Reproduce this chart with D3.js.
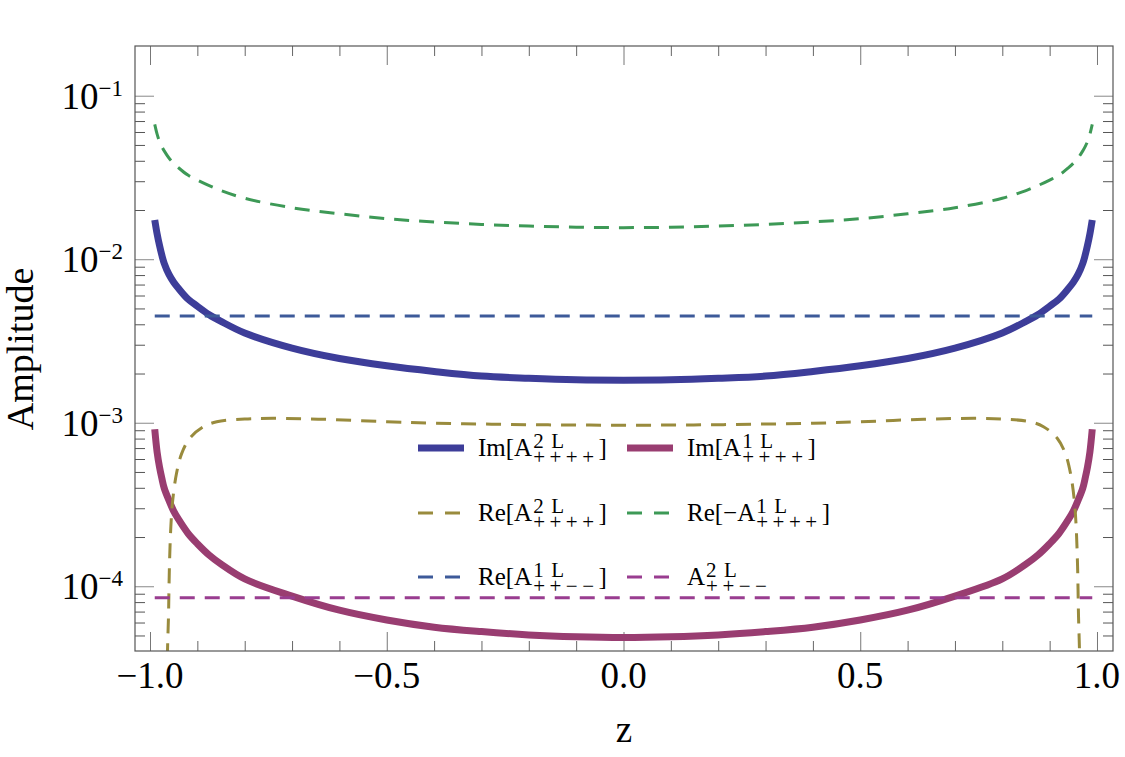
<!DOCTYPE html>
<meta charset="utf-8">
<head>
  <title>Amplitude vs z</title>
  <style>
    body { margin: 0; background: #fff; }
    text { font-family: "Liberation Serif", "Times New Roman", serif; fill: #000; }
  </style>
</head>
<body>
<script src="https://d3js.org/d3.v7.min.js"></script>
<script>
var WIDTH = 1125,
    HEIGHT = 757,
    LEFT = 135, TOP = 46, RIGHT = 1113, BOTTOM = 651;

// sample points in z
var zGrid = [-0.99, -0.985, -0.98, -0.975, -0.97, -0.96, -0.95, -0.94, -0.92, -0.9, -0.875, -0.85, -0.8,
             -0.7, -0.6, -0.5, -0.4, -0.3, -0.2, -0.1, 0, 0.1, 0.2, 0.3, 0.4, 0.5, 0.6, 0.7,
             0.8, 0.85, 0.875, 0.9, 0.92, 0.94, 0.95, 0.96, 0.97, 0.975, 0.98, 0.985, 0.99];
var zEnds = [-0.99, 0.99];
var zOlive = [-0.965, -0.963, -0.961, -0.959, -0.956, -0.952, -0.944, -0.933, -0.916, -0.887, -0.859, -0.8, -0.74, -0.634,
              -0.5, -0.4, -0.3, -0.2, -0.1, 0, 0.1, 0.2, 0.3, 0.4, 0.5,
              0.634, 0.74, 0.8, 0.859, 0.887, 0.916, 0.933, 0.944, 0.952, 0.956, 0.959, 0.961, 0.963, 0.965];

// Im[A 2L ++++]
var imA2L = [0.01738, 0.01429, 0.01216, 0.01059, 0.00944, 0.00807, 0.00723, 0.00664, 0.00571, 0.00516, 0.00458, 0.00417, 0.00354,
             0.00286, 0.00247, 0.00223, 0.00206, 0.00193, 0.00187, 0.00183, 0.00182, 0.00183, 0.00187, 0.00193, 0.00206, 0.00223, 0.00247, 0.00286,
             0.00354, 0.00417, 0.00458, 0.00516, 0.00571, 0.00664, 0.00723, 0.00807, 0.00944, 0.01059, 0.01216, 0.01429, 0.01738];
// Im[A 1L ++++]
var imA1L = [9.12e-4, 6.61e-4, 5.37e-4, 4.57e-4, 3.98e-4, 3.35e-4, 2.88e-4, 2.57e-4, 2.11e-4, 1.82e-4, 1.55e-4, 1.365e-4, 1.109e-4,
             8.71e-5, 7.14e-5, 6.22e-5, 5.62e-5, 5.28e-5, 5.04e-5, 4.91e-5, 4.86e-5, 4.91e-5, 5.04e-5, 5.28e-5, 5.62e-5, 6.22e-5, 7.14e-5, 8.71e-5,
             1.109e-4, 1.365e-4, 1.55e-4, 1.82e-4, 2.11e-4, 2.57e-4, 2.88e-4, 3.35e-4, 3.98e-4, 4.57e-4, 5.37e-4, 6.61e-4, 9.12e-4];
// Re[A 2L ++++]
var reA2L = [1.26e-5, 4.07e-5, 6.5e-5, 1.315e-4, 2.31e-4, 3.37e-4, 4.91e-4, 6.5e-4, 8.04e-4, 9.46e-4, 1.014e-3, 1.054e-3, 1.064e-3, 1.05e-3,
             1.014e-3, 9.93e-4, 9.82e-4, 9.73e-4, 9.68e-4, 9.66e-4, 9.68e-4, 9.73e-4, 9.82e-4, 9.93e-4, 1.014e-3,
             1.05e-3, 1.064e-3, 1.054e-3, 1.014e-3, 9.46e-4, 8.04e-4, 6.5e-4, 4.91e-4, 3.37e-4, 2.31e-4, 1.315e-4, 6.5e-5, 4.07e-5, 1.26e-5];
// Re[-A 1L ++++]
var reNegA1L = [0.0668, 0.0582, 0.0525, 0.0488, 0.046, 0.0416, 0.0386, 0.0363, 0.0327, 0.0305, 0.0282, 0.0263, 0.0236,
                0.02065, 0.01897, 0.0177, 0.0169, 0.01633, 0.01596, 0.0157, 0.0156, 0.0157, 0.01596, 0.01633, 0.0169, 0.0177, 0.01897, 0.02065,
                0.0236, 0.0263, 0.0282, 0.0305, 0.0327, 0.0363, 0.0386, 0.0416, 0.046, 0.0488, 0.0525, 0.0582, 0.0668];
// Re[A 1L ++--]
var reA1Lmm = [0.0045, 0.0045];
// A 2L ++--
var a2Lmm = [8.5e-5, 8.5e-5];

var xMajor = [-1, -0.5, 0, 0.5, 1];
var xMajorLabels = ["\u22121.0", "\u22120.5", "0.0", "0.5", "1.0"];
var yMajor = [1e-1, 1e-2, 1e-3, 1e-4];
var yMajorExp = ["\u22121", "\u22122", "\u22123", "\u22124"];

var series = [
  {z: zGrid, v: imA2L, color: "#3d3d99", width: 7, dash: null, pre: "Im[A", sup: "2", sub: "++++", post: "]"},
  {z: zGrid, v: imA1L, color: "#993d71", width: 7, dash: null, pre: "Im[A", sup: "1", sub: "++++", post: "]"},
  {z: zOlive, v: reA2L, color: "#998b3d", width: 3, dash: "15,10", pre: "Re[A", sup: "2", sub: "++++", post: "]"},
  {z: zGrid, v: reNegA1L, color: "#3d9956", width: 3, dash: "15,10", pre: "Re[\u2212A", sup: "1", sub: "++++", post: "]"},
  {z: zEnds, v: reA1Lmm, color: "#3d5a99", width: 3, dash: "15,10", pre: "Re[A", sup: "1", sub: "++\u2212\u2212", post: "]"},
  {z: zEnds, v: a2Lmm, color: "#993d90", width: 3, dash: "15,10", pre: "A", sup: "2", sub: "++\u2212\u2212", post: ""}
];

var svg = d3.select("body").append("svg")
    .attr("width", WIDTH)
    .attr("height", HEIGHT);

var x = d3.scaleLinear().domain([-1.0317, 1.0338]).range([LEFT, RIGHT]);
var y = d3.scaleLog().domain([4.018e-5, 0.2014]).range([BOTTOM, TOP]);

svg.append("clipPath").attr("id", "plot")
  .append("rect").attr("x", LEFT).attr("y", TOP)
  .attr("width", RIGHT - LEFT).attr("height", BOTTOM - TOP);

// ticks
var xMinor = d3.range(-10, 11).map(function(i) { return i / 10; })
    .filter(function(d) { return xMajor.indexOf(d) < 0; });
var yMinor = [];
[1e-5, 1e-4, 1e-3, 1e-2].forEach(function(p) {
  for (var k = 2; k <= 9; k++) {
    var v = k * p;
    if (v > y.domain()[0] && v < 0.1) yMinor.push(v);
  }
});

function ticks(axis, pos, values, size, color) {
  var g = svg.append("g")
      .attr("transform", pos)
      .call(axis.tickValues(values).tickSize(size).tickSizeOuter(0).tickFormat(""));
  g.select(".domain").remove();
  g.selectAll("line").attr("stroke", color).attr("stroke-width", 1);
}
ticks(d3.axisBottom(x), "translate(0," + BOTTOM + ")", xMajor, -19, "#777");
ticks(d3.axisBottom(x), "translate(0," + BOTTOM + ")", xMinor, -10, "#666");
ticks(d3.axisTop(x), "translate(0," + TOP + ")", xMajor, -19, "#777");
ticks(d3.axisTop(x), "translate(0," + TOP + ")", xMinor, -10, "#666");
ticks(d3.axisLeft(y), "translate(" + LEFT + ",0)", yMajor, -19, "#888");
ticks(d3.axisLeft(y), "translate(" + LEFT + ",0)", yMinor, -10, "#555");
ticks(d3.axisRight(y), "translate(" + RIGHT + ",0)", yMajor, -19, "#888");
ticks(d3.axisRight(y), "translate(" + RIGHT + ",0)", yMinor, -10, "#555");

// curves
var line = d3.line()
    .x(function(d) { return x(d[0]); })
    .y(function(d) { return y(d[1]); })
    .curve(d3.curveCatmullRom.alpha(0.5));

var plot = svg.append("g").attr("clip-path", "url(#plot)");
series.forEach(function(s) {
  plot.append("path")
    .attr("d", line(s.z.map(function(z, i) { return [z, s.v[i]]; })))
    .attr("fill", "none")
    .attr("stroke", s.color)
    .attr("stroke-width", s.width)
    .attr("stroke-dasharray", s.dash);
});

// frame
svg.append("rect")
  .attr("x", LEFT).attr("y", TOP)
  .attr("width", RIGHT - LEFT).attr("height", BOTTOM - TOP)
  .attr("fill", "none").attr("stroke", "#555").attr("stroke-width", 1.2);

// tick labels
svg.selectAll(".xl").data(xMajor).enter().append("text")
  .attr("x", function(d) { return x(d); })
  .attr("y", 688)
  .attr("text-anchor", "middle")
  .attr("font-size", 37)
  .text(function(d, i) { return xMajorLabels[i]; });

var yl = svg.selectAll(".yl").data(yMajor).enter().append("text")
  .attr("x", 123)
  .attr("y", function(d) { return y(d) + 13; })
  .attr("text-anchor", "end")
  .attr("font-size", 37);
yl.append("tspan").text("10");
yl.append("tspan").attr("dy", -13).attr("font-size", 23)
  .text(function(d, i) { return yMajorExp[i]; });

svg.append("text")
  .attr("x", 624).attr("y", 742)
  .attr("text-anchor", "middle").attr("font-size", 37)
  .text("z");

svg.append("text")
  .attr("transform", "translate(33,349) rotate(-90)")
  .attr("text-anchor", "middle").attr("font-size", 38)
  .text("Amplitude");

// legend
var legendCols = [418, 627],
    legendRows = [448, 513, 577];

function textWidth(str, size, spacing) {
  var t = svg.append("text").attr("font-size", size)
      .attr("letter-spacing", spacing || 0).text(str);
  var w = t.node().getComputedTextLength();
  t.remove();
  return w;
}

series.forEach(function(s, i) {
  var lx = legendCols[i % 2], ly = legendRows[Math.floor(i / 2)];
  var g = svg.append("g");
  g.append("line")
    .attr("x1", lx).attr("x2", s.dash ? lx + 42 : lx + 46)
    .attr("y1", ly).attr("y2", ly)
    .attr("stroke", s.color)
    .attr("stroke-width", s.dash ? 3 : 7)
    .attr("stroke-dasharray", s.dash ? "15,12" : null);

  var tx = lx + 60, base = ly + 8;
  var px = tx + textWidth(s.pre, 25);
  var sx = px + 1 + textWidth(s.sub, 21, 4.5);
  var t = g.append("text").attr("x", tx).attr("y", base).attr("font-size", 25);
  t.append("tspan").text(s.pre);
  t.append("tspan").attr("x", px + 1).attr("dy", -8).attr("font-size", 21).text(s.sup);
  t.append("tspan").attr("x", px + 19).attr("font-size", 21).text("L");
  t.append("tspan").attr("x", px + 1).attr("dy", 16).attr("font-size", 21)
    .attr("letter-spacing", 4.5).text(s.sub);
  t.append("tspan").attr("x", sx).attr("dy", -8).text(s.post);
});
</script>
</body>
